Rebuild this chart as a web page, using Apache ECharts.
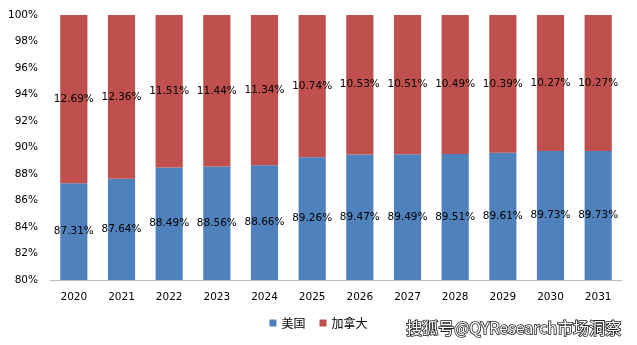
<!DOCTYPE html>
<html>
<head>
<meta charset="utf-8">
<script src="https://cdn.jsdelivr.net/npm/echarts@6/dist/echarts.min.js"></script>
<style>html,body{margin:0;padding:0;background:#fff}#c{width:637px;height:345px}</style>
</head>
<body>
<div id="c"></div>
<script>
var years = ['2020','2021','2022','2023','2024','2025','2026','2027','2028','2029','2030','2031'];
var usShare = [87.31,87.64,88.49,88.56,88.66,89.26,89.47,89.49,89.51,89.61,89.73,89.73];
var caShare = [12.69,12.36,11.51,11.44,11.34,10.74,10.53,10.51,10.49,10.39,10.27,10.27];
var seriesNames = ['美国','加拿大'];
var yTicks = [80,82,84,86,88,90,92,94,96,98,100];

var chart = echarts.init(document.getElementById('c'), null, {renderer:'canvas'});
var labelStyle = {
  show: true, position: 'inside', color: '#000',
  fontFamily: 'DejaVu Sans', fontSize: 10.5,
  formatter: function(p){ return p.value.toFixed(2) + '%'; }
};
chart.setOption({
  animation: false,
  color: ['#4F81BD','#C0504D'],
  grid: {left: 50, right: 15, top: 15, bottom: 65},
  legend: {
    bottom: 11, left: 'center', itemWidth: 7, itemHeight: 7, itemGap: 14,
    icon: 'rect',
    textStyle: {fontFamily: 'Noto Sans CJK SC', fontSize: 12, color: '#000'},
    data: seriesNames
  },
  xAxis: {
    type: 'category', data: years,
    axisLine: {lineStyle: {color: '#BFBFBF'}},
    axisTick: {show: false},
    axisLabel: {color: '#000', fontFamily: 'DejaVu Sans', fontSize: 10.5, margin: 12}
  },
  yAxis: {
    type: 'value', min: yTicks[0], max: yTicks[yTicks.length-1], interval: 2,
    axisLine: {show: false}, axisTick: {show: false},
    splitLine: {show: false},
    axisLabel: {color: '#000', fontFamily: 'DejaVu Sans', fontSize: 10.5, margin: 12,
      formatter: function(v){ return v + '%'; }}
  },
  series: [
    {name: seriesNames[0], type: 'bar', stack: 'total', data: usShare, barWidth: '57%', label: labelStyle, clip: true},
    {name: seriesNames[1], type: 'bar', stack: 'total', data: caShare, barWidth: '57%', label: labelStyle, clip: true}
  ],
  graphic: [{
    type: 'text', right: 15, bottom: 8,
    style: {
      text: '搜狐号@QYResearch市场洞察',
      fontFamily: 'Noto Sans CJK SC', fontSize: 16, fontWeight: 'normal',
      fill: '#fff', stroke: '#222', lineWidth: 1.6
    }
  }]
});
</script>
</body>
</html>
